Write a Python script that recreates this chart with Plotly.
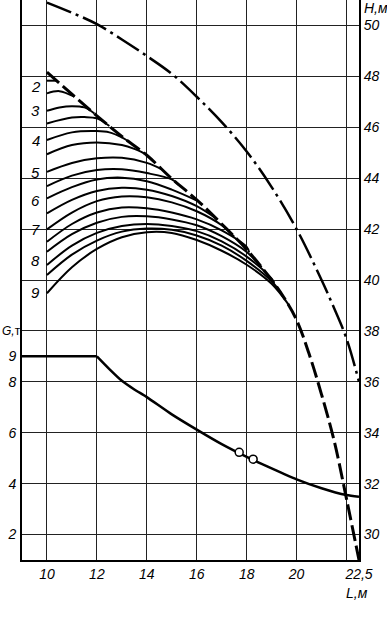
import plotly.graph_objects as go

# ---- axis ticks ----
L_ticks = [10, 12, 14, 16, 18, 20, 22.5]
L_ticktext = ["10", "12", "14", "16", "18", "20", "22,5"]
H_ticks = [30, 32, 34, 36, 38, 40, 42, 44, 46, 48, 50]
G_ticks = [2, 4, 6, 8, 9]
G_ticktext = ["2", "4", "6", "8", "9"]
G_title = "G,<span style='font-style:normal'>т</span>"
G_title_pos = 10

# ---- dash-dot curve (H, m) ----
dashdot_L = [10, 11, 12, 13, 14, 15, 16, 17, 18, 19, 20, 21, 21.5, 22, 22.5]
dashdot_H = [50.9, 50.5, 50.05, 49.45, 48.8, 48.1, 47.2, 46.2, 45.05, 43.65, 42.0, 40.0, 38.9, 37.7, 36.0]

# ---- dashed envelope (H, m) ----
envelope_L = [10, 11, 12, 13, 14, 15, 16, 17, 18, 19, 19.5, 20, 20.5, 21, 21.5, 22, 22.5]
envelope_H = [48.17, 47.3, 46.45, 45.64, 44.9, 43.98, 43.15, 42.2, 41.2, 40.0, 39.3, 38.43, 37.1, 35.5, 33.7, 31.4, 29.0]

# ---- family of solid curves (H, m) ----
c1_L = [10, 10.4];                          c1_H = [47.83, 47.83]
c2_L = [10, 10.5, 11.1];                    c2_H = [47.33, 47.42, 47.2]
c3_L = [10, 10.5, 11, 11.5, 11.9];          c3_H = [46.65, 46.78, 46.83, 46.78, 46.54]
c4_L = [10, 11, 11.5, 12, 12.5];            c4_H = [46.15, 46.38, 46.4, 46.35, 46.05]
c5_L = [10, 11, 12, 12.5, 13, 13.3];        c5_H = [45.5, 45.8, 45.85, 45.8, 45.6, 45.42]
c6_L = [10, 11, 12, 13, 13.5, 13.9];        c6_H = [44.94, 45.3, 45.4, 45.3, 45.15, 44.97]
c7_L = [10, 11, 12, 13, 14, 14.6];          c7_H = [44.25, 44.6, 44.78, 44.8, 44.6, 44.35]
c8_L = [10, 11, 12, 13, 14, 15, 15.3];      c8_H = [43.69, 44.1, 44.32, 44.35, 44.2, 43.95, 43.72]
c9_L = [10, 11, 12, 13, 14, 15, 16.05];     c9_H = [43.21, 43.65, 43.95, 44.02, 43.88, 43.55, 43.1]
c10_L = [10, 11, 12, 13, 14, 15, 16, 16.8]; c10_H = [42.62, 43.15, 43.5, 43.62, 43.55, 43.3, 42.9, 42.4]
c11_L = [10, 11, 12, 13, 14, 15, 16, 17, 17.5]
c11_H = [41.99, 42.65, 43.1, 43.28, 43.25, 43.05, 42.7, 42.15, 41.7]
c12_L = [10, 11, 12, 13, 14, 15, 16, 17, 18, 18.1]
c12_H = [41.5, 42.2, 42.65, 42.85, 42.82, 42.65, 42.38, 41.95, 41.3, 41.08]
c13_L = [10, 11, 12, 13, 14, 15, 16, 17, 18, 18.6]
c13_H = [41.11, 41.8, 42.25, 42.48, 42.5, 42.38, 42.15, 41.72, 41.1, 40.5]
c14_L = [10, 11, 12, 13, 14, 15, 16, 17, 18, 19, 19.1]
c14_H = [40.59, 41.35, 41.85, 42.12, 42.2, 42.12, 41.92, 41.52, 40.92, 40.05, 39.87]
c15_L = [10, 11, 12, 13, 14, 15, 16, 17, 18, 19, 19.4]
c15_H = [40.2, 41.0, 41.55, 41.9, 42.02, 41.97, 41.75, 41.35, 40.75, 39.95, 39.45]
c16_L = [10, 11, 12, 13, 14, 15, 16, 17, 18, 19, 19.7]
c16_H = [39.48, 40.5, 41.22, 41.68, 41.88, 41.85, 41.57, 41.15, 40.6, 39.85, 39.0]

family = [(c1_L, c1_H), (c2_L, c2_H), (c3_L, c3_H), (c4_L, c4_H), (c5_L, c5_H),
          (c6_L, c6_H), (c7_L, c7_H), (c8_L, c8_H), (c9_L, c9_H), (c10_L, c10_H),
          (c11_L, c11_H), (c12_L, c12_H), (c13_L, c13_H), (c14_L, c14_H),
          (c15_L, c15_H), (c16_L, c16_H)]

# ---- curve labels ----
label_text = ["2", "3", "4", "5", "6", "7", "8", "9"]
label_H = [47.62, 46.64, 45.5, 44.24, 43.14, 42.0, 40.78, 39.49]

# ---- load curve G, t ----
flat_L = [9, 12]
flat_G = [9, 9]
load_L = [12, 12.5, 13, 13.5, 14, 15, 16, 17, 18, 19, 20, 21, 22, 22.5]
load_G = [9, 8.5, 8.04, 7.7, 7.4, 6.72, 6.12, 5.55, 5.05, 4.6, 4.17, 3.82, 3.55, 3.48]
points_L = [17.7, 18.26]
points_G = [5.23, 4.96]

FONT = dict(family="Liberation Sans", size=14, color="black", style="italic")

fig = go.Figure()

fig.add_trace(go.Scatter(x=dashdot_L, y=dashdot_H, mode="lines", yaxis="y",
                         line=dict(color="black", width=2.5, dash="26px,5px,3px,5px", shape="spline")))
for cl, ch in family:
    fig.add_trace(go.Scatter(x=cl, y=ch, mode="lines", yaxis="y",
                             line=dict(color="black", width=2, shape="spline", smoothing=1)))
fig.add_trace(go.Scatter(x=envelope_L, y=envelope_H, mode="lines", yaxis="y",
                         line=dict(color="black", width=3, dash="16px,5px", shape="spline")))

fig.add_trace(go.Scatter(x=flat_L, y=flat_G, mode="lines", yaxis="y2",
                         line=dict(color="black", width=2.5)))
fig.add_trace(go.Scatter(x=load_L, y=load_G, mode="lines", yaxis="y2",
                         line=dict(color="black", width=2.5, shape="spline", smoothing=0.6)))
fig.add_trace(go.Scatter(x=points_L, y=points_G, mode="markers", yaxis="y2",
                         marker=dict(size=8, color="white", line=dict(color="black", width=1.5))))

annotations = []
for t, h in zip(label_text, label_H):
    annotations.append(dict(x=9.55, y=h, xref="x", yref="y", text=t, showarrow=False,
                            font=dict(size=15, color="black", family="Liberation Sans", style="italic")))
annotations.append(dict(x=1, xref="paper", xanchor="left", xshift=3, y=50.69, yref="y",
                        text="H,м", showarrow=False, font=FONT))
annotations.append(dict(x=22.4, xref="x", y=0, yref="paper", yshift=-33, yanchor="middle",
                        text="L,м", showarrow=False, font=FONT))
annotations.append(dict(x=0, xref="paper", xanchor="left", xshift=-22, y=G_title_pos, yref="y2",
                        text=G_title, showarrow=False,
                        font=dict(size=12, color="black", family="Liberation Sans", style="italic")))

fig.update_layout(
    width=387, height=617,
    margin=dict(l=22, r=28, t=0, b=57, autoexpand=False),
    paper_bgcolor="white", plot_bgcolor="white",
    showlegend=False,
    font=FONT,
    annotations=annotations,
    xaxis=dict(range=[9, 22.5], tickvals=L_ticks, ticktext=L_ticktext,
               showgrid=True, gridcolor="#222", gridwidth=1,
               minor=dict(tickvals=[22], showgrid=True, gridcolor="#222", gridwidth=1, ticks=""),
               showline=True, linecolor="black", linewidth=2, ticks="", ticklen=0,
               zeroline=False, ticklabelstandoff=0, automargin=False),
    yaxis=dict(range=[29, 51], side="right", tickvals=H_ticks,
               showgrid=True, gridcolor="#222", gridwidth=1,
               showline=True, linecolor="black", linewidth=2, ticks="", ticklen=0,
               zeroline=False, ticklabelstandoff=0, automargin=False),
    yaxis2=dict(range=[1, 23], side="left", overlaying="y", tickvals=G_ticks, ticktext=G_ticktext,
                showgrid=False, showline=True, linecolor="black", linewidth=2, ticks="", ticklen=0,
                zeroline=False, ticklabelstandoff=1, automargin=False),
)

fig.write_html("out.html", config={"displayModeBar": False},
               post_script="document.body.style.margin='0';")
